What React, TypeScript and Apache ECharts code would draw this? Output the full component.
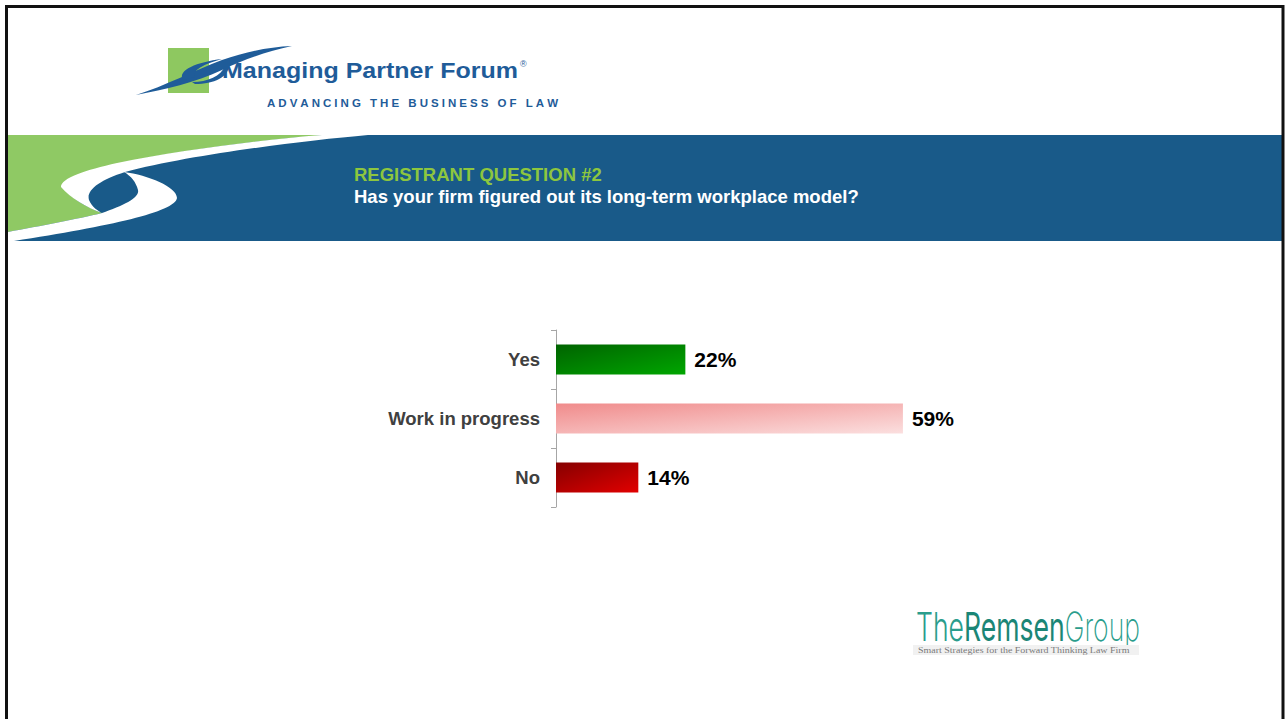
import React, { useEffect, useRef } from "react";
import * as echarts from "echarts";

// ---- data ----
const categories = ["Yes", "Work in progress", "No"];
const values = [22, 59, 14];
const titleLine1 = "REGISTRANT QUESTION #2";
const titleLine2 = "Has your firm figured out its long-term workplace model?";
const logoName = "Managing Partner Forum";
const logoTagline = "ADVANCING THE BUSINESS OF LAW";
const remsenParts = ["The", "Remsen", "Group"];
const remsenTagline = "Smart Strategies for the Forward Thinking Law Firm";

// ---- styles ----
const barGradients = [
  ["#006300", "#00a600"],
  ["#f08b8b", "#fbdfdf"],
  ["#850000", "#e20000"],
];
const BLUE = "#195a89";
const GREEN = "#8fc964";
const LOGO_BLUE = "#1f5c99";

const shapes: Record<string, string> = {
  bannerGreen:
    "M8,135 L326,135 C262,140 182,150 117,164 C88,171 66,178 62,186 C70,198 88,208 102,213 C78,219 40,226 8,232 Z",
  swooshA:
    "M322,135 L368,135 C300,141 190,155 125,172 C100,180 86,190 89,200 C92,207 98,211 102,213 C88,208 70,198 61,187 C61,178 86,170 117,163 C180,150 258,140 322,135 Z",
  swooshB:
    "M124,172 C148,175 177,187 177,198 C175,212 110,226 14,241 L8,241 L8,232 C40,226 78,219 102,213 C122,206 140,198 138,190 C136,182 131,176 124,172 Z",
  mpfSwoosh:
    "M136,95 C165,89 195,83 222,70 C245,59 268,51 292,46 C268,47 245,52 222,60 C195,70 165,86 136,95 Z",
  mpfS1: "M183,80 C177,70 197,62 222,59 C204,64 192,70 195,77 Z",
  mpfS2: "M192,82 C208,82 221,76 225,66 L229,65 C229,77 214,84 195,84 Z",
};
for (const k of Object.keys(shapes)) {
  echarts.graphic.registerShape(k, echarts.graphic.extendPath(shapes[k], {}));
}

function measure(text: string, font: string): number {
  const c = document.createElement("canvas").getContext("2d")!;
  c.font = font;
  return c.measureText(text).width;
}

export default function App() {
  const ref = useRef<HTMLDivElement>(null);
  useEffect(() => {
    document.body.style.margin = "0";
    const chart = echarts.init(ref.current!, null, { renderer: "svg" });

    const FF = "Liberation Sans";
    const graphics: any[] = [];
    // frame
    graphics.push({
      type: "rect",
      shape: { x: 6.5, y: 6.5, width: 1276.5, height: 800 },
      style: { fill: "none", stroke: "#111", lineWidth: 3 },
      z: 20,
    });
    // banner
    graphics.push({ type: "rect", shape: { x: 8, y: 135, width: 1275, height: 106 }, style: { fill: BLUE } });
    graphics.push({ type: "bannerGreen", style: { fill: GREEN } });
    graphics.push({ type: "swooshA", style: { fill: "#ffffff" } });
    graphics.push({ type: "swooshB", style: { fill: "#ffffff" } });
    graphics.push({
      type: "text",
      x: 354,
      y: 174.5,
      style: { text: titleLine1, font: `bold 18.5px "${FF}"`, fill: "#8dc63f", verticalAlign: "middle" },
    });
    graphics.push({
      type: "text",
      x: 354,
      y: 196.5,
      style: { text: titleLine2, font: `bold 18.5px "${FF}"`, fill: "#ffffff", verticalAlign: "middle" },
    });

    // MPF logo
    graphics.push({ type: "rect", shape: { x: 168, y: 48, width: 41, height: 45 }, style: { fill: "#8ec860" } });
    graphics.push({ type: "mpfSwoosh", style: { fill: LOGO_BLUE } });
    graphics.push({ type: "mpfS1", style: { fill: LOGO_BLUE } });
    graphics.push({ type: "mpfS2", style: { fill: LOGO_BLUE } });
    const nameFont = `bold 22px "${FF}"`;
    graphics.push({
      type: "text",
      x: 222,
      y: 71,
      scaleX: 296 / measure(logoName, nameFont),
      style: { text: logoName, font: nameFont, fill: LOGO_BLUE, verticalAlign: "middle" },
    });
    graphics.push({
      type: "text",
      x: 520,
      y: 64,
      style: { text: "®", font: `9px "${FF}"`, fill: LOGO_BLUE, verticalAlign: "middle" },
    });
    const tagFont = `bold 11.5px "${FF}"`;
    const chars = logoTagline.split("");
    const widths = chars.map((ch) => measure(ch, tagFont));
    const sum = widths.reduce((a, b) => a + b, 0);
    const ls = (291 - sum) / (chars.length - 1);
    let cx = 267;
    chars.forEach((ch, i) => {
      if (ch !== " ") {
        graphics.push({
          type: "text",
          x: cx,
          y: 102.5,
          style: { text: ch, font: tagFont, fill: LOGO_BLUE, verticalAlign: "middle" },
        });
      }
      cx += widths[i] + ls;
    });

    // Remsen logo
    const rFonts = [`300 40px Inter`, `400 40px Inter`, `200 40px Inter`];
    const rColors = ["#2a9d8c", "#1b8676", "#2a9d8c"];
    const rW = remsenParts.map((p, i) => measure(p, rFonts[i]));
    const rTotal = rW.reduce((a, b) => a + b, 0);
    const rChildren: any[] = [];
    let rx = 0;
    remsenParts.forEach((p, i) => {
      rChildren.push({
        type: "text",
        x: rx,
        y: 0,
        style: { text: p, font: rFonts[i], fill: rColors[i], verticalAlign: "middle" },
      });
      rx += rW[i];
    });
    graphics.push({ type: "group", x: 916, y: 626, scaleX: 224 / rTotal, children: rChildren });
    graphics.push({ type: "rect", shape: { x: 913, y: 645, width: 226, height: 10 }, style: { fill: "#f1f1f1" } });
    const subFont = `8.5px "Liberation Serif"`;
    graphics.push({
      type: "text",
      x: 918,
      y: 650,
      scaleX: 212 / measure(remsenTagline, subFont),
      style: { text: remsenTagline, font: subFont, fill: "#7a7a7a", verticalAlign: "middle" },
    });

    const option: any = {
      animation: false,
      textStyle: { fontFamily: FF },
      grid: { left: 556, top: 330, width: 588, bottom: 212, containLabel: false },
      xAxis: { type: "value", min: 0, max: 100, show: false },
      yAxis: {
        type: "category",
        data: categories,
        inverse: true,
        axisLine: { show: true, lineStyle: { color: "#a6a6a6", width: 1 } },
        axisTick: { show: true, length: 5, lineStyle: { color: "#a6a6a6" } },
        axisLabel: { fontSize: 18.5, fontWeight: "bold", color: "#404040", margin: 16, fontFamily: FF },
        splitLine: { show: false },
      },
      series: [
        {
          type: "bar",
          barWidth: 30,
          data: values.map((v, i) => ({
            value: v,
            itemStyle: {
              color: new echarts.graphic.LinearGradient(0, 0, 1, 1, [
                { offset: 0, color: barGradients[i][0] },
                { offset: 1, color: barGradients[i][1] },
              ]),
            },
          })),
          label: {
            show: true,
            position: "right",
            distance: 9,
            formatter: "{c}%",
            fontSize: 21,
            fontWeight: "bold",
            color: "#000",
            fontFamily: FF,
          },
        },
      ],
      graphic: { elements: graphics },
    };
    chart.setOption(option);
    return () => chart.dispose();
  }, []);
  return <div ref={ref} style={{ width: 1286, height: 719 }} />;
}
